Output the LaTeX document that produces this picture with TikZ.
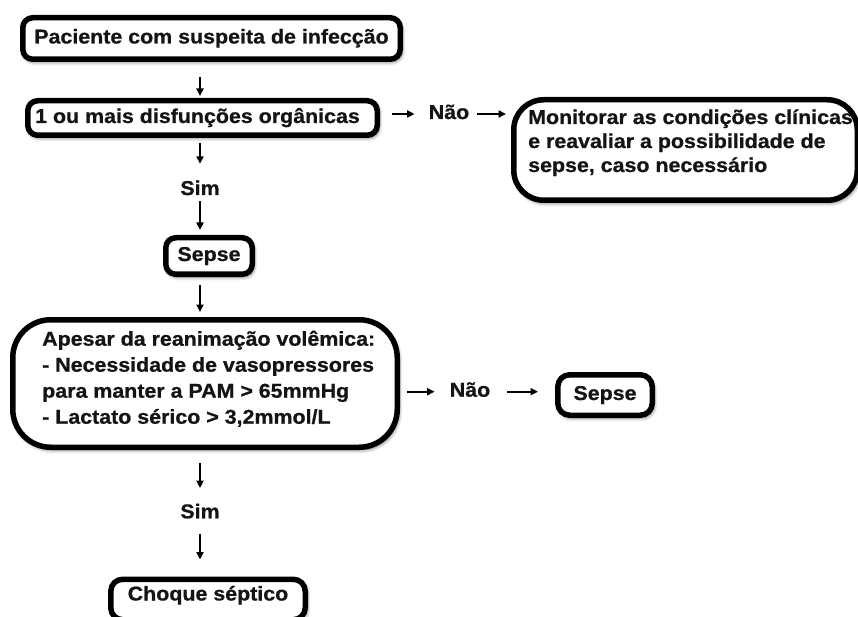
\documentclass[tikz,border=0pt]{standalone}
\usepackage{fontspec}
\newfontfamily\ff[FakeStretch=1.07,FakeBold=0.8]{Liberation Sans}
\usetikzlibrary{arrows.meta,shadows.blur}
\tikzset{
  txt/.style={font=\ff\bfseries\fontsize{20}{24}\selectfont, text=black!92},
  box/.style={txt, draw=black, line width=5.5pt, fill=white, rounded corners=#1,
    inner sep=0pt, text height=14pt, text depth=4pt,
    blur shadow={shadow xshift=1.5pt, shadow yshift=-2.5pt, shadow blur radius=4pt, shadow blur steps=8, shadow opacity=60}},
  box/.default=10pt,
  lab/.style={txt, inner sep=0pt, text height=14pt, text depth=4pt},
  mtxt/.style={txt, inner sep=0pt, anchor=base west},
  arr/.style={line width=1.9pt, -{Triangle[length=7.5pt,width=7pt]}},
}
\begin{document}
\begin{tikzpicture}[x=1pt,y=-1pt]
\useasboundingbox (0,0) rectangle (858,617);
\clip (0,0) rectangle (858,617);
\coordinate (col) at (200,0);

% boxes
\node[box=10pt, minimum width=377.5pt, minimum height=41.5pt] (b1) at (211.5,38.5) {Paciente com suspeita de infecção};
\node[box=10pt, minimum width=349.5pt, minimum height=34.5pt] (b2) at (202.5,118) {1 ou mais disfunções orgânicas\hspace*{10pt}};
\node[box=30pt, minimum width=343.5pt, minimum height=100.5pt] (b3) at (685.5,150) {};
\node[mtxt] (t3) at (528,124) {\fontsize{20}{24}\selectfont\begin{tabular}[t]{@{}l@{}}Monitorar as condições clínicas\\ e reavaliar a possibilidade de\\ sepse, caso necessário\end{tabular}};
\node[box=10pt, minimum width=86.5pt, minimum height=36.5pt] (s1) at (209,256) {Sepse};
\node[box=38pt, minimum width=384.5pt, minimum height=127.5pt] (b4) at (205,383.5) {};
\node[mtxt] (t4) at (42,345.7) {\fontsize{20}{26}\selectfont\begin{tabular}[t]{@{}l@{}}Apesar da reanimação volêmica:\\ - Necessidade de vasopressores\\ para manter a PAM > 65mmHg\\ - Lactato sérico > 3,2mmol/L\end{tabular}};
\node[box=12pt, minimum width=94.5pt, minimum height=40.5pt] (s2) at (605,395) {Sepse};
\node[box=12pt, minimum width=194.5pt, minimum height=40.5pt, text depth=12pt] (ch) at (208,599.5) {Choque séptico};

% labels
\node[lab] (sim1) at (200,190) {Sim};
\node[lab] (nao1) at (449,114) {Não};
\node[lab] (nao2) at (470,391.7) {Não};
\node[lab] (sim2) at (200,513.3) {Sim};

% connectors
\draw[arr, shorten <=15pt, shorten >=2pt] (b1.south -| col) -- (b2.north -| col);
\draw[arr, shorten <=5pt, shorten >=17pt] (b2.south -| col) -- (sim1.north -| col);
\draw[arr, shorten <=2pt, shorten >=5pt] (sim1.south -| col) -- (s1.north -| col);
\draw[arr, shorten <=8pt, shorten >=5pt] (s1.south -| col) -- (b4.north -| col);
\draw[arr, shorten <=12pt, shorten >=14pt] (b2.east |- nao1) -- (nao1.west);
\draw[arr, shorten <=8pt, shorten >=5pt] (nao1.east) -- (nao1.east -| b3.west);
\draw[arr, shorten <=7pt, shorten >=15pt] (b4.east |- nao2) -- (nao2.west);
\draw[arr, shorten <=17pt, shorten >=17pt] (nao2.east) -- (nao2.east -| s2.west);
\draw[arr, shorten <=13pt, shorten >=16pt] (b4.south -| col) -- (sim2.north -| col);
\draw[arr, shorten <=11pt, shorten >=17pt] (sim2.south -| col) -- (ch.north -| col);
\end{tikzpicture}
\end{document}
